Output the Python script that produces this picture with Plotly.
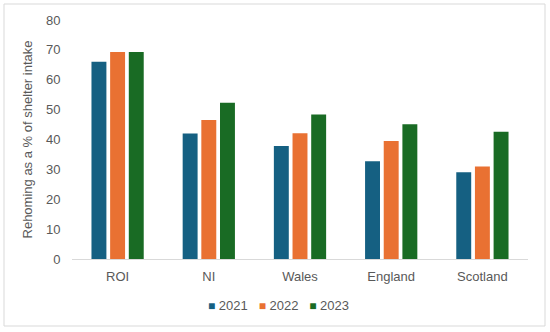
import plotly.graph_objects as go

categories = ["ROI", "NI", "Wales", "England", "Scotland"]
years = ["2021", "2022", "2023"]
values_2021 = [66.0, 42.0, 37.8, 32.7, 29.0]
values_2022 = [69.3, 46.5, 42.1, 39.5, 31.0]
values_2023 = [69.3, 52.3, 48.4, 45.1, 42.6]
y_ticks = [0, 10, 20, 30, 40, 50, 60, 70, 80]

colors = ["#156082", "#E97132", "#196B24"]
series = [values_2021, values_2022, values_2023]

fig = go.Figure()
for name, vals, c in zip(years, series, colors):
    fig.add_trace(go.Bar(x=categories, y=vals, name=name, showlegend=False,
                         marker=dict(color=c, line=dict(width=0))))

# legend drawn as text: coloured square + year label
legend_text = "&nbsp;&nbsp;&nbsp;".join(
    f"<span style='color:{c};font-size:12px'>■</span> {y}" for y, c in zip(years, colors)
)

font_family = "Liberation Sans, Arial, sans-serif"
fig.update_layout(
    width=550, height=332,
    margin=dict(l=72, r=22, t=20, b=73),
    paper_bgcolor="white", plot_bgcolor="white",
    barmode="group", bargap=0.386, bargroupgap=0.2,
    font=dict(family=font_family, size=13, color="#595959"),
    xaxis=dict(showgrid=False, showline=True, linecolor="#d9d9d9", linewidth=1,
               ticks="outside", ticklen=5, tickcolor="rgba(0,0,0,0)",
               tickfont=dict(size=13, color="#595959")),
    yaxis=dict(range=[0, 80], tickvals=y_ticks, showgrid=False, showline=False, zeroline=False,
               ticks="outside", ticklen=8, tickcolor="rgba(0,0,0,0)",
               tickfont=dict(size=13, color="#595959"),
               title=dict(text="Rehoming as a % of shelter intake", font=dict(size=13, color="#595959"), standoff=10)),
    annotations=[dict(xref="paper", yref="paper", x=(278 - 72) / 456, y=(259 - 305) / 239,
                      xanchor="center", yanchor="middle", showarrow=False, text=legend_text,
                      font=dict(size=13, color="#595959"))],
    shapes=[dict(type="rect", xref="paper", yref="paper",
                 x0=(4 - 72) / 456, x1=(545 - 72) / 456,
                 y0=(259 - 326) / 239, y1=(259 - 4) / 239,
                 line=dict(color="#d9d9d9", width=1), fillcolor="rgba(0,0,0,0)")],
)

fig.write_html("out.html", config={"displayModeBar": False},
               post_script="document.body.style.margin='0';document.body.style.overflow='hidden';")
